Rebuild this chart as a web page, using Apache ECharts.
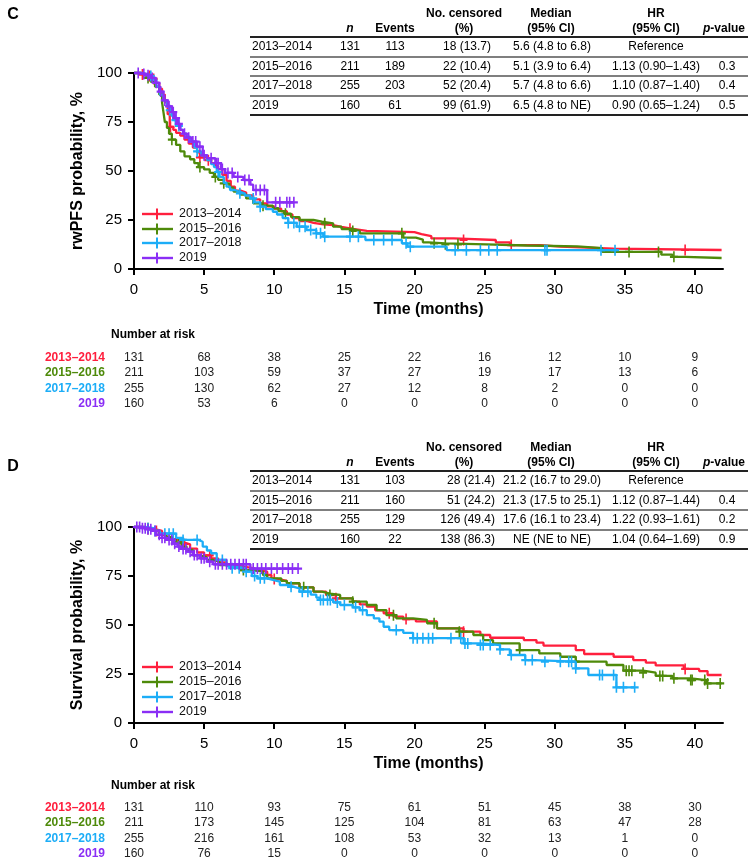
<!DOCTYPE html>
<html><head><meta charset="utf-8">
<script src="https://cdn.jsdelivr.net/npm/echarts@6/dist/echarts.min.js"></script>
<style>html,body{margin:0;padding:0;background:#fff}#c{width:749px;height:866px}</style>
</head><body><div id="c"></div>
<script>
// ---------- data ----------
const groups = ['2013–2014', '2015–2016', '2017–2018', '2019'];
const colors = ['#FF1F3D', '#4E8A0A', '#1CADF7', '#8A2EF5'];
const timeTicks = [0, 5, 10, 15, 20, 25, 30, 35, 40];
const yTicks = [0, 25, 50, 75, 100];

// Panel C (rwPFS) step points [month, %]
const cRed = [[0,100],[0.5,99.2],[0.9,98.5],[1.2,97],[1.5,95],[1.8,92],[2.0,89],[2.2,85],[2.4,79],[2.55,72.5],[2.8,71],[3.0,69.5],[3.3,68],[3.6,66],[3.9,64],[4.2,62],[4.5,59.5],[4.7,57],[5.2,55.5],[5.5,54],[5.8,52.5],[6.0,51],[6.3,48],[6.6,45],[6.9,42],[7.2,40],[7.6,39],[8.0,37.5],[8.5,35.5],[9.0,33.5],[9.5,32],[10.0,30.8],[10.5,29.5],[10.9,27.8],[11.3,26],[11.8,24.5],[12.3,23.5],[12.8,22.8],[13.5,22.4],[14.2,21.5],[14.8,20.5],[15.6,19.5],[16.6,18.8],[20.0,17.8],[20.5,16.8],[21.2,15.6],[22.8,14.8],[25.8,13.6],[26.8,12.2],[29.0,11.4],[30.4,10.4],[34.2,9.7],[41.9,9.7]];
const cRedCens = [0.6,1.1,1.4,2.6,4.7,5.3,15.4,23.5,26.9,39.3];
const cGreen = [[0,100],[0.5,99],[0.9,97.5],[1.2,95.5],[1.5,93],[1.8,89],[2.0,85],[2.1,80],[2.2,75],[2.35,72],[2.5,69],[2.7,66],[3.0,63.3],[3.3,60],[3.6,57.5],[4.0,56],[4.3,54],[4.6,52],[5.0,50.8],[5.4,49],[5.7,47],[6.0,45.5],[6.4,43.7],[6.8,41.5],[7.1,39.5],[7.6,38],[8.0,36],[8.5,33.5],[9.1,32.3],[9.9,31],[10.3,29.5],[10.7,28.2],[11.2,26.5],[11.8,25],[12.8,24.2],[13.4,23.3],[14.2,21.6],[14.8,20.4],[15.6,19.4],[16.1,18.2],[19.2,16.0],[20.1,15.0],[20.6,13.6],[21.0,13.1],[22.2,12.6],[25.1,12.0],[28.0,11.5],[31.6,10.6],[33.4,8.7],[37.6,7.3],[38.4,6.2],[39.3,5.6],[41.9,5.6]];
const cGreenCens = [1.0,2.7,4.7,5.8,6.4,9.2,10.8,13.6,15.6,19.1,21.4,22.2,23.1,35.3,37.4,38.5];
const cCyan = [[0,100],[0.6,99.3],[1.0,98.5],[1.3,96.5],[1.6,93],[1.85,89],[2.1,86],[2.35,83],[2.55,81],[2.7,78],[2.85,76],[3.1,73],[3.3,71],[3.5,69],[3.75,67.5],[4.0,65],[4.3,62],[4.5,60],[4.8,58],[5.2,55.6],[5.5,53.5],[5.7,52],[5.9,49.5],[6.1,47],[6.4,44],[6.6,42],[6.85,40.3],[7.2,39.3],[7.55,38.6],[7.9,37.5],[8.3,36],[8.6,34],[9.0,31.8],[9.4,30.5],[9.9,29.2],[10.2,27.8],[10.6,26],[11.0,23.5],[11.6,21.6],[12.3,19.9],[13.0,18.2],[13.5,16.5],[16.5,14.8],[19.1,13.1],[19.5,11.4],[22.3,9.6],[34.4,9.6]];
const cCyanCens = [1.2,2.55,2.95,3.2,4.5,6.0,7.55,8.5,9.0,11.0,11.4,11.8,12.2,12.6,13.0,13.3,13.6,15.4,16.0,17.1,17.8,18.4,19.4,19.7,22.9,23.7,24.7,25.3,25.9,29.3,29.45,33.3,34.3];
const cPurple = [[0,100],[0.5,99.5],[0.9,98.8],[1.2,97.5],[1.5,95],[1.8,90.5],[2.1,86],[2.4,83],[2.7,80],[2.9,77],[3.1,74],[3.3,71],[3.5,69],[3.75,67],[4.1,65],[4.5,62.4],[4.9,58],[5.2,56.5],[5.8,54],[6.2,51],[6.5,49],[7.1,47],[7.8,45.4],[8.3,43],[8.5,40.3],[9.5,34],[11.4,34]];
const cPurpleCens = [0.3,0.7,1.0,1.3,1.6,1.9,2.2,2.5,2.8,3.0,3.2,3.6,3.9,4.2,4.4,4.7,5.0,5.5,5.9,6.0,6.3,6.7,7.0,7.4,7.9,8.2,8.7,9.0,9.3,10.1,10.4,10.9,11.1,11.4];

// Panel D (overall survival)
const dRed = [[0,100],[0.8,99],[1.4,98],[2.0,96],[2.3,94],[2.8,93],[3.3,92],[3.6,91.2],[4.0,89],[4.5,87],[5.0,85.5],[5.5,84],[6.0,82],[6.6,80.6],[7.2,79.8],[7.8,78.9],[8.6,77.8],[9.0,77.2],[9.5,75.5],[9.8,73.5],[10.2,72.5],[10.9,71.3],[11.8,69.2],[12.8,67],[13.7,65.3],[14.4,63.6],[15.6,61.9],[16.1,60.5],[16.6,59.4],[17.2,57.5],[17.8,56],[18.5,54.3],[19.2,53.0],[20.1,51.8],[21.6,48.3],[23.5,46.6],[24.7,44.9],[25.4,43.5],[27.8,42.3],[28.7,41],[29.2,39.5],[31.5,37.2],[32.1,35.2],[34.2,33.8],[35.6,32.1],[36.5,30.8],[37.2,29.4],[39.2,27.6],[40.3,26.5],[40.9,24.5],[41.9,24.5]];
const dRedCens = [1.0,1.6,3.6,5.4,10.0,14.4,18.2,19.4,23.5,39.3];
const dGreen = [[0,100],[0.6,99.3],[1.2,98],[1.8,96.5],[2.3,95],[2.7,93.5],[3.0,92],[3.4,90],[3.75,88.3],[4.2,85.5],[4.7,84.5],[5.2,83.2],[5.6,82.3],[6.1,80.6],[7.1,79.5],[7.55,78],[8.5,77.2],[9.2,75.5],[9.5,73.8],[10.5,72.5],[10.9,71.3],[11.8,69.2],[12.8,67],[13.4,66],[13.97,65.3],[14.7,63.6],[15.6,61.9],[16.6,60.2],[17.3,57.6],[18.0,55],[18.7,53.4],[19.9,52.6],[20.9,50.9],[21.6,48.3],[23.2,46.6],[24.2,44.9],[24.9,42.3],[25.6,40.6],[27.5,37.2],[28.9,35.5],[30.4,33.8],[31.5,31.3],[33.7,29.6],[34.9,26.7],[36.3,25.7],[37.2,24],[38.4,22.8],[39.7,21.9],[40.8,20.2],[41.9,20.2]];
const dGreenCens = [1.0,3.2,7.8,12.1,13.97,15.6,18.5,21.4,23.2,27.5,31.5,35.1,35.3,35.5,36.3,37.5,37.7,38.5,39.7,39.8,40.7,40.9,41.8];
const dCyan = [[0,100],[0.8,99.3],[1.5,98],[1.85,96.6],[3.0,94.5],[3.5,93.4],[4.6,92.5],[4.9,90],[5.2,88],[5.5,86.6],[5.9,83.2],[6.6,80],[7.0,79],[8.0,77.2],[8.4,75],[8.8,73.8],[9.5,73],[9.9,72.1],[10.4,70.4],[11.0,69.5],[11.4,68.7],[11.8,67],[12.6,65.5],[13.0,64],[13.25,62.8],[14.2,61.5],[14.7,60.2],[15.6,59],[16.1,57.6],[16.6,55],[17.1,53.4],[17.5,51.7],[17.8,49.1],[18.2,47.4],[19.2,46],[19.9,43.3],[23.5,40.6],[24.7,39.8],[26.1,37.6],[26.8,34.7],[27.9,32.1],[28.5,31.3],[31.5,27.9],[32.4,24.5],[34.4,18.2],[35.7,18.2]];
const dCyanCens = [1.0,1.5,2.2,2.5,2.8,3.5,4.5,6.3,7.0,7.5,8.0,8.6,9.0,9.3,11.2,12.0,12.4,13.3,13.5,13.8,14.0,14.5,15.0,15.8,16.3,18.7,19.9,20.2,20.6,21.0,21.3,22.6,23.3,23.6,23.8,24.7,24.9,25.4,26.1,26.9,27.9,28.4,29.3,30.4,31.0,31.2,31.5,33.2,33.4,34.2,34.4,34.9,35.7];
const dPurple = [[0,100],[0.5,99.4],[1.0,98.8],[1.4,98],[1.6,96],[2.0,94.5],[2.3,93.4],[2.8,91.5],[3.1,90],[3.4,88.8],[3.75,87.4],[4.2,85.7],[4.7,84],[5.2,82.3],[5.65,81.0],[8.3,78.8],[11.7,78.8]];
const dPurpleCens = [0.2,0.4,0.6,0.8,1.0,1.2,1.5,1.8,2.0,2.2,2.5,2.7,2.9,3.2,3.5,3.7,4.0,4.3,4.5,4.8,5.0,5.4,5.8,6.0,6.3,6.6,6.9,7.2,7.5,7.8,8.0,8.5,8.8,9.1,9.4,9.8,10.2,10.6,11.0,11.3,11.7];

// Number at risk
const cRisk = [[131,68,38,25,22,16,12,10,9],[211,103,59,37,27,19,17,13,6],[255,130,62,27,12,8,2,0,0],[160,53,6,0,0,0,0,0,0]];
const dRisk = [[131,110,93,75,61,51,45,38,30],[211,173,145,125,104,81,63,47,28],[255,216,161,108,53,32,13,1,0],[160,76,15,0,0,0,0,0,0]];

// Summary tables
const tabN = [131, 211, 255, 160];
const cEvents = [113, 189, 203, 61];
const cCensored = ['18 (13.7)', '22 (10.4)', '52 (20.4)', '99 (61.9)'];
const cMedian = ['5.6 (4.8 to 6.8)', '5.1 (3.9 to 6.4)', '5.7 (4.8 to 6.6)', '6.5 (4.8 to NE)'];
const cHR = ['Reference', '1.13 (0.90–1.43)', '1.10 (0.87–1.40)', '0.90 (0.65–1.24)'];
const cP = ['', '0.3', '0.4', '0.5'];
const dEvents = [103, 160, 129, 22];
const dCensored = ['28 (21.4)', '51 (24.2)', '126 (49.4)', '138 (86.3)'];
const dMedian = ['21.2 (16.7 to 29.0)', '21.3 (17.5 to 25.1)', '17.6 (16.1 to 23.4)', 'NE (NE to NE)'];
const dHR = ['Reference', '1.12 (0.87–1.44)', '1.22 (0.93–1.61)', '1.04 (0.64–1.69)'];
const dP = ['', '0.4', '0.2', '0.9'];

// ---------- chart ----------
const FONT = '"Liberation Sans", Arial, Helvetica, sans-serif';
const chart = echarts.init(document.getElementById('c'), null, {renderer: 'canvas'});
const plus = 'path://M4,0h2v10h-2z M0,4h10v2h-10z';

const panels = [
  {steps: [cRed, cGreen, cCyan, cPurple], cens: [cRedCens, cGreenCens, cCyanCens, cPurpleCens], top: 73, yName: 'rwPFS probability, %'},
  {steps: [dRed, dGreen, dCyan, dPurple], cens: [dRedCens, dGreenCens, dCyanCens, dPurpleCens], top: 527, yName: 'Survival probability, %'}
];
function stepAt(steps, t) { let v = steps[0][1]; for (const s of steps) { if (s[0] <= t + 1e-9) v = s[1]; else break; } return v; }

const grids = [], xAxes = [], yAxes = [], series = [];
panels.forEach((p, pi) => {
  grids.push({left: 134, top: p.top, width: 589, height: 196});
  xAxes.push({
    type: 'value', gridIndex: pi, min: 0, max: 42, interval: 5,
    name: 'Time (months)', nameLocation: 'middle', nameGap: 33,
    nameTextStyle: {fontFamily: FONT, fontWeight: 'bold', fontSize: 16, color: '#000'},
    axisLine: {show: true, onZero: false, lineStyle: {color: '#000', width: 2}},
    axisTick: {show: true, length: 6, lineStyle: {color: '#000', width: 2}, customValues: timeTicks},
    axisLabel: {fontFamily: FONT, fontSize: 15, color: '#000', margin: 13, customValues: timeTicks},
    splitLine: {show: false}
  });
  yAxes.push({
    type: 'value', gridIndex: pi, min: 0, max: 100, interval: 25,
    name: p.yName, nameLocation: 'middle', nameGap: 42,
    nameTextStyle: {fontFamily: FONT, fontWeight: 'bold', fontSize: 16, color: '#000'},
    axisLine: {show: true, onZero: false, lineStyle: {color: '#000', width: 2}},
    axisTick: {show: true, length: 6, lineStyle: {color: '#000', width: 2}},
    axisLabel: {fontFamily: FONT, fontSize: 15, color: '#000', margin: 12},
    splitLine: {show: false}
  });
  p.steps.forEach((st, g) => {
    series.push({
      type: 'line', name: groups[g], xAxisIndex: pi, yAxisIndex: pi, data: st, step: 'end',
      showSymbol: false, symbol: 'none', clip: false, silent: true, z: 3 + g,
      lineStyle: {color: colors[g], width: 2.3}
    });
    series.push({
      type: 'scatter', xAxisIndex: pi, yAxisIndex: pi, silent: true, z: 3 + g,
      data: p.cens[g].map(t => [t, stepAt(st, t)]),
      symbol: plus, symbolSize: [8, 11], itemStyle: {color: colors[g], opacity: 1}
    });
  });
});

chart.setOption({animation: false, backgroundColor: '#fff', grid: grids, xAxis: xAxes, yAxis: yAxes, series: series});

// ---------- text, tables, legends ----------
function txt(x, y, text, o = {}) {
  const size = o.size || 12, weight = o.weight || 'normal', fst = o.fstyle || 'normal';
  const align = o.align || 'center', va = o.va || 'middle';
  const st = {text: String(text), fill: o.color || '#000', font: `${fst} ${weight} ${size}px ${FONT}`,
    textAlign: align, textVerticalAlign: va, align: align, verticalAlign: va};
  if (o.rich) st.rich = o.rich;
  return {type: 'text', x: x, y: y, silent: true, style: st};
}
function hline(x1, x2, y, w, c) {
  return {type: 'line', silent: true, shape: {x1: x1, y1: y, x2: x2, y2: y}, style: {stroke: c || '#333', lineWidth: w || 1.5}};
}
const gfx = [];
const tables = [
  {dy: 0, label: 'C', ly: 15, events: cEvents, cens: cCensored, med: cMedian, hr: cHR, p: cP, censX: 491},
  {dy: 434, label: 'D', ly: 467, events: dEvents, cens: dCensored, med: dMedian, hr: dHR, p: dP, censX: 495}
];
const rowY = [47, 67, 86, 106];
const lineY = [37, 57, 76, 96, 115];
tables.forEach((tb, pi) => {
  const dy = tb.dy;
  gfx.push(txt(13, tb.ly, tb.label, {size: 16, weight: 'bold'}));
  gfx.push(txt(464, 14 + dy, 'No. censored', {weight: 'bold'}));
  gfx.push(txt(551, 14 + dy, 'Median', {weight: 'bold'}));
  gfx.push(txt(656, 14 + dy, 'HR', {weight: 'bold'}));
  gfx.push(txt(350, 29 + dy, 'n', {weight: 'bold', fstyle: 'italic'}));
  gfx.push(txt(395, 29 + dy, 'Events', {weight: 'bold'}));
  gfx.push(txt(464, 29 + dy, '(%)', {weight: 'bold'}));
  gfx.push(txt(551, 29 + dy, '(95% CI)', {weight: 'bold'}));
  gfx.push(txt(656, 29 + dy, '(95% CI)', {weight: 'bold'}));
  gfx.push(txt(724, 29 + dy, '{i|p}{b|-value}', {weight: 'bold', rich: {
    i: {fontStyle: 'italic', fontWeight: 'bold', fontSize: 12, fontFamily: FONT, fill: '#000'},
    b: {fontWeight: 'bold', fontSize: 12, fontFamily: FONT, fill: '#000'}}}));
  lineY.forEach((ly, i) => gfx.push(hline(250, 748, ly + dy, (i === 0 || i === 4) ? 1.8 : 1.5, (i === 0 || i === 4) ? '#222' : '#555')));
  rowY.forEach((ry, r) => {
    const y = ry + dy;
    gfx.push(txt(252, y, groups[r], {align: 'left'}));
    gfx.push(txt(350, y, tabN[r]));
    gfx.push(txt(395, y, tb.events[r]));
    gfx.push(txt(tb.censX, y, tb.cens[r], {align: 'right'}));
    gfx.push(txt(552, y, tb.med[r]));
    gfx.push(txt(656, y, tb.hr[r]));
    if (tb.p[r]) gfx.push(txt(727, y, tb.p[r]));
  });
});

// legends
const legY = [[214, 229, 243, 258], [667, 682, 697, 712]];
legY.forEach(ys => {
  ys.forEach((y, g) => {
    gfx.push({type: 'line', silent: true, shape: {x1: 142, y1: y, x2: 173, y2: y}, style: {stroke: colors[g], lineWidth: 2.4}});
    gfx.push({type: 'line', silent: true, shape: {x1: 157, y1: y - 5.5, x2: 157, y2: y + 5.5}, style: {stroke: colors[g], lineWidth: 2}});
    gfx.push(txt(179, y, groups[g], {align: 'left', size: 12.5, color: '#111'}));
  });
});

// number at risk
const riskSets = [{data: cRisk, head: 335, rows: [358, 373, 389, 404]}, {data: dRisk, head: 786, rows: [808, 823, 839, 854]}];
riskSets.forEach((rs, pi) => {
  gfx.push(txt(111, rs.head, 'Number at risk', {align: 'left', weight: 'bold'}));
  rs.rows.forEach((y, g) => {
    gfx.push(txt(105, y, groups[g], {align: 'right', weight: 'bold', color: colors[g]}));
    timeTicks.forEach((t, k) => {
      const x = chart.convertToPixel({xAxisIndex: pi}, t);
      gfx.push(txt(x, y, rs.data[g][k], {color: '#222'}));
    });
  });
});

chart.setOption({graphic: {elements: gfx}});
</script>
</body></html>
